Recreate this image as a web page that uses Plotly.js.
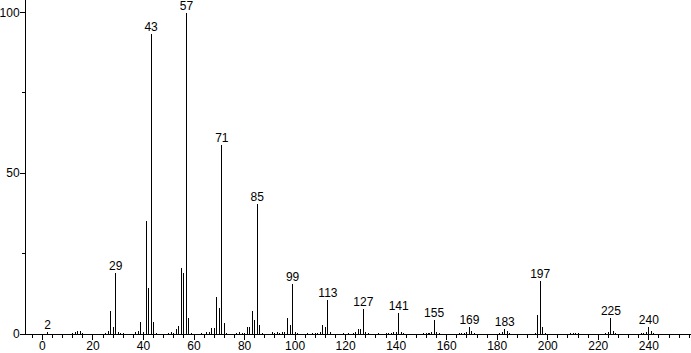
<!DOCTYPE html>
<html>
<head>
<meta charset="utf-8">
<script src="https://cdn.plot.ly/plotly-3.0.1.min.js"></script>
<style>html,body{margin:0;padding:0;background:#fff}#chart{width:691px;height:353px}</style>
</head>
<body>
<div id="chart"></div>
<script>
// m/z values and relative intensities
const mz = [2, 12, 13, 14, 15, 16, 25, 26, 27, 28, 29, 30, 31, 32,
  37, 38, 39, 40, 41, 42, 43, 44, 45, 50, 51, 52, 53, 54, 55, 56, 57, 58, 59,
  63, 65, 66, 67, 68, 69, 70, 71, 72, 73, 77, 78, 79, 80, 81, 82, 83, 84, 85, 86, 87,
  91, 92, 93, 94, 95, 96, 97, 98, 99, 100, 101, 105, 107, 108, 109, 110, 111, 112, 113, 114,
  119, 121, 123, 124, 125, 126, 127, 128, 129, 133, 136, 137, 138, 139, 140, 141, 142, 143,
  151, 152, 153, 154, 155, 156, 157, 165, 166, 167, 168, 169, 170, 171,
  181, 182, 183, 184, 185, 195, 196, 197, 198, 199, 209, 210, 211, 212,
  223, 224, 225, 226, 227, 237, 238, 239, 240, 241, 242];
const intensity = [0.5, 0.3, 0.6, 0.9, 0.8, 0.3, 0.4, 0.8, 7.2, 2.3, 18.9, 0.6, 0.4, 0.3,
  0.6, 0.8, 3.8, 0.6, 35.3, 14.4, 93.2, 3.8, 0.4, 0.4, 0.6, 0.4, 1.7, 2.4, 20.6, 19.1, 100, 5.1, 0.3,
  0.4, 0.5, 0.5, 2.0, 2.0, 11.6, 8.2, 58.9, 3.5, 0.3, 0.4, 0.5, 0.4, 0.4, 2.1, 2.3, 7.2, 4.4, 40.5, 2.8, 0.4,
  0.5, 0.4, 0.5, 0.4, 0.5, 0.5, 5.1, 2.8, 15.6, 0.7, 0.4, 0.3, 0.3, 0.3, 0.4, 0.5, 2.8, 2.3, 10.6, 0.5,
  0.3, 0.3, 0.4, 0.5, 1.5, 1.5, 7.8, 0.5, 0.3, 0.3, 0.3, 0.4, 0.4, 0.5, 0.6, 6.6, 0.6, 0.3,
  0.3, 0.4, 0.4, 0.5, 4.4, 0.6, 0.3, 0.3, 0.4, 0.4, 0.6, 2.1, 0.8, 0.4,
  0.3, 0.5, 1.5, 0.8, 0.3, 0.3, 5.9, 16.6, 2.1, 0.4, 0.3, 0.4, 0.4, 0.3,
  0.3, 0.5, 4.9, 0.8, 0.4, 0.3, 0.4, 0.5, 2.1, 0.8, 0.3];
// labelled peaks
const labelMz = [2, 29, 43, 57, 71, 85, 99, 113, 127, 141, 155, 169, 183, 197, 225, 240];
const labelText = labelMz.map(String);
const labelY = labelMz.map(m => intensity[mz.indexOf(m)]);
const xTickVals = [0, 20, 40, 60, 80, 100, 120, 140, 160, 180, 200, 220, 240];
const xTickText = ["0", "20", "40", "60", "80", "100", "120", "140", "160", "180", "200", "220", "240"];
const yTickVals = [0, 50, 100];
const yTickText = ["0", "50", "100"];

const font = {family: "Liberation Sans, Arial, sans-serif", size: 12, color: "#000"};

const traces = [
  {
    type: "bar", x: mz, y: intensity, width: 0.4,
    marker: {color: "#000", line: {width: 0}},
    hoverinfo: "x+y", showlegend: false
  },
  {
    type: "scatter", mode: "text", x: labelMz, y: labelY, text: labelText,
    textposition: "top center", textfont: font, cliponaxis: false,
    hoverinfo: "skip", showlegend: false
  }
];

const layout = {
  width: 691, height: 353,
  margin: {l: 26, r: 0, t: 0, b: 19, pad: 0},
  paper_bgcolor: "#fff", plot_bgcolor: "#fff",
  font: font,
  showlegend: false,
  bargap: 0,
  xaxis: {
    range: [-6.5, 256.7], showgrid: false, zeroline: false,
    showline: true, linecolor: "#000", linewidth: 1,
    ticks: "outside", ticklen: 5, tickwidth: 1, tickcolor: "#000",
    tickmode: "array", tickvals: xTickVals, ticktext: xTickText,
    tickfont: font, ticklabelstandoff: -4,
    minor: {dtick: 4, tick0: 0, ticks: "outside", ticklen: 3, tickwidth: 1, tickcolor: "#000", showgrid: false}
  },
  yaxis: {
    range: [0, 103.9], showgrid: false, zeroline: false,
    showline: true, linecolor: "#000", linewidth: 1,
    ticks: "outside", ticklen: 5, tickwidth: 1, tickcolor: "#000",
    tickmode: "array", tickvals: yTickVals, ticktext: yTickText,
    tickfont: font, ticklabelstandoff: -2,
    minor: {dtick: 25, tick0: 0, ticks: "outside", ticklen: 3, tickwidth: 1, tickcolor: "#000", showgrid: false}
  }
};

Plotly.newPlot("chart", traces, layout, {displayModeBar: false, staticPlot: true});
</script>
</body>
</html>
